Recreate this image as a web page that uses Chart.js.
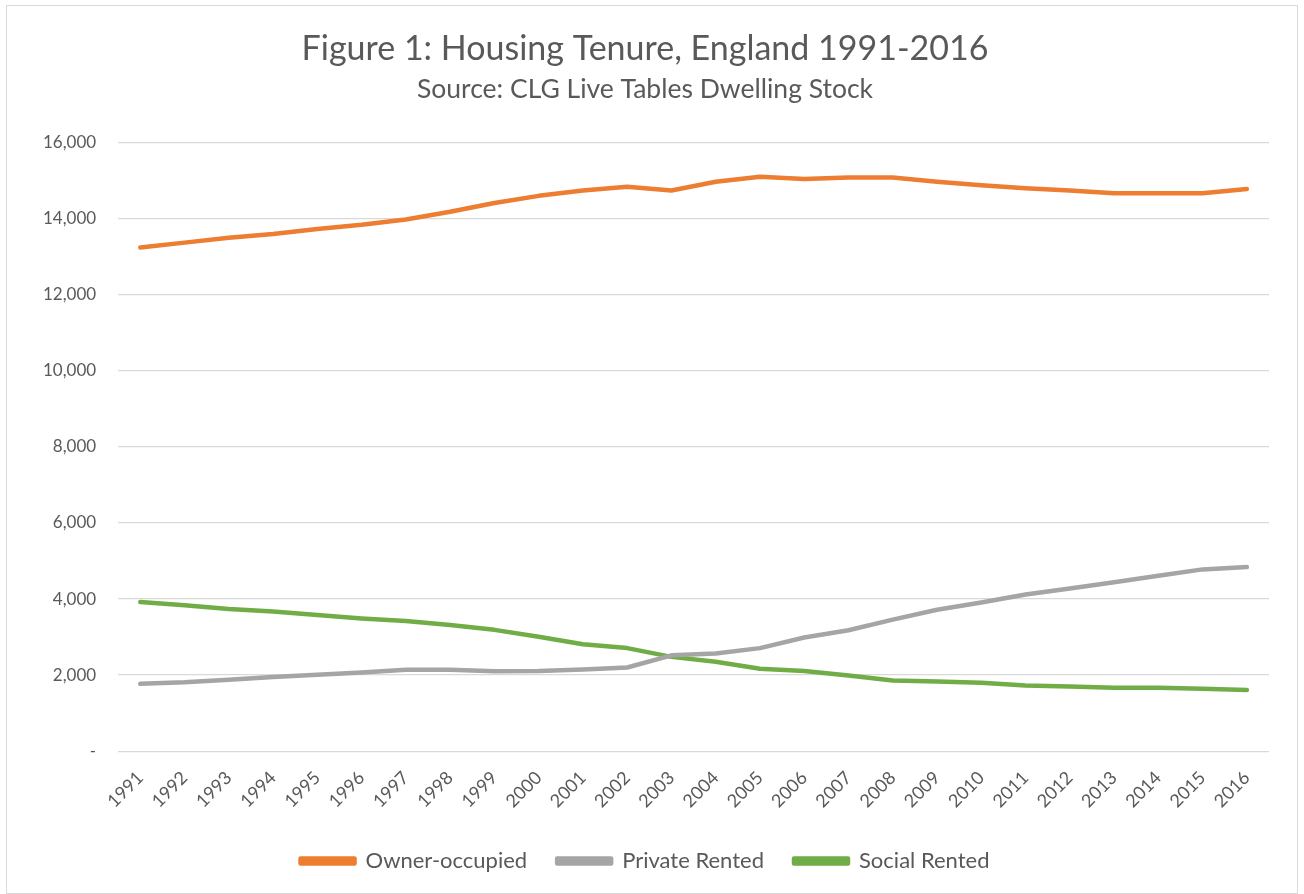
<!DOCTYPE html>
<html>
<head>
<meta charset="utf-8">
<script src="https://cdn.jsdelivr.net/npm/chart.js@4/dist/chart.umd.min.js"></script>
<style>
  body { margin: 0; background: #fff; }
  #wrap {
    position: absolute; left: 6px; top: 5px;
    width: 1290px; height: 887px;
    border: 1px solid #d9d9d9;
  }
</style>
</head>
<body>
<div id="wrap"><canvas id="chart"></canvas></div>
<script>
// Housing tenure, thousands of dwellings
const years = ['1991','1992','1993','1994','1995','1996','1997','1998','1999','2000',
  '2001','2002','2003','2004','2005','2006','2007','2008','2009','2010',
  '2011','2012','2013','2014','2015','2016'];

const ownerOccupied = [13240, 13370, 13500, 13600, 13730, 13840, 13980, 14180, 14410, 14600,
  14740, 14840, 14740, 14970, 15100, 15040, 15080, 15080, 14970, 14880,
  14800, 14740, 14670, 14670, 14670, 14780];

const privateRented = [1770, 1810, 1880, 1950, 2010, 2070, 2140, 2140, 2100, 2110,
  2150, 2200, 2520, 2570, 2710, 2990, 3180, 3460, 3720, 3910,
  4120, 4280, 4440, 4610, 4780, 4840];

const socialRented = [3920, 3840, 3740, 3670, 3580, 3490, 3420, 3320, 3190, 3010,
  2810, 2710, 2480, 2350, 2170, 2110, 1990, 1860, 1830, 1800,
  1730, 1700, 1670, 1670, 1640, 1610];

const yTicks = [0, 2000, 4000, 6000, 8000, 10000, 12000, 14000, 16000];

const FONT = 'Lato, "Open Sans", sans-serif';
const TEXT = '#595959';

function series(label, data, color) {
  return {
    label: label,
    data: data,
    borderColor: color,
    backgroundColor: color,
    borderWidth: 4.5,
    pointRadius: 0,
    tension: 0,
    borderCapStyle: 'round',
    borderJoinStyle: 'round'
  };
}

new Chart(document.getElementById('chart'), {
  type: 'line',
  data: {
    labels: years,
    datasets: [
      series('Owner-occupied', ownerOccupied, '#ed7d31'),
      series('Private Rented', privateRented, '#a5a5a5'),
      series('Social Rented', socialRented, '#70ad47')
    ]
  },
  options: {
    responsive: true,
    maintainAspectRatio: false,
    animation: false,
    layout: { padding: { left: 14, right: 28, top: 6, bottom: 11 } },
    plugins: {
      title: {
        display: true,
        text: 'Figure 1: Housing Tenure, England 1991-2016',
        color: TEXT,
        font: { family: FONT, size: 34, weight: 'normal' },
        padding: { top: 17, bottom: 4 }
      },
      subtitle: {
        display: true,
        text: 'Source: CLG Live Tables Dwelling Stock',
        color: TEXT,
        font: { family: FONT, size: 26.5, weight: 'normal' },
        padding: { bottom: 37 }
      },
      legend: {
        position: 'bottom',
        labels: {
          color: TEXT,
          font: { family: FONT, size: 22 },
          boxWidth: 54,
          boxHeight: 5,
          padding: 30
        }
      },
      tooltip: { enabled: false }
    },
    scales: {
      x: {
        offset: true,
        grid: { display: false },
        border: { display: false },
        ticks: {
          color: TEXT,
          font: { family: FONT, size: 18 },
          maxRotation: 45,
          minRotation: 45,
          autoSkip: false,
          padding: 8
        }
      },
      y: {
        min: 0,
        max: 16000,
        afterBuildTicks: axis => { axis.ticks = yTicks.map(v => ({ value: v })); },
        grid: { color: '#d9d9d9', lineWidth: 1.3, drawTicks: false },
        border: { display: false },
        ticks: {
          color: TEXT,
          font: { family: FONT, size: 17 },
          padding: 22,
          callback: v => v === 0 ? '-' : v.toLocaleString('en-US')
        }
      }
    }
  }
});
</script>
</body>
</html>
